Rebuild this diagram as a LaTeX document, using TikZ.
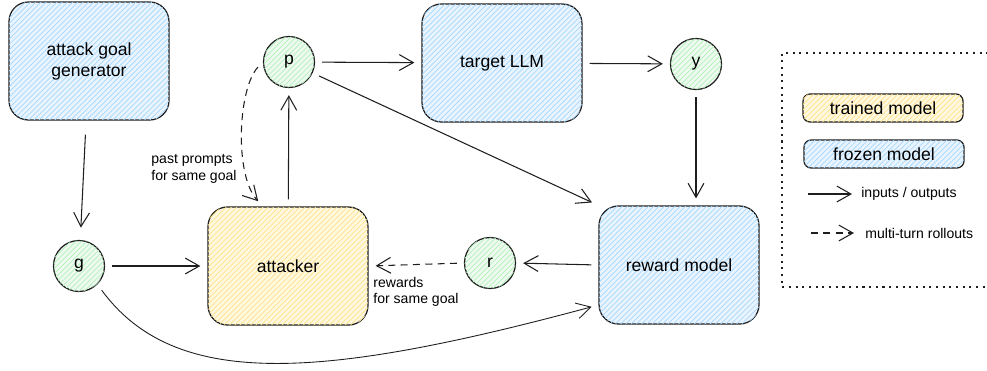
\documentclass[tikz,border=0pt]{standalone}
\usepackage{fontspec}
\setmainfont{Liberation Sans}
\usetikzlibrary{arrows.meta,patterns}

\definecolor{ink}{HTML}{1E1E1E}
\definecolor{frozenbg}{HTML}{EAF4FE}
\definecolor{frozenln}{HTML}{A5D8FF}
\definecolor{trainedbg}{HTML}{FFF8E0}
\definecolor{trainedln}{HTML}{FFE38A}
\definecolor{varbg}{HTML}{EEFAF0}
\definecolor{varln}{HTML}{B2F2BB}

\tikzset{
	>={Straight Barb[length=8pt,width=9pt]},
	box/.style={draw=ink, line width=0.7pt, rounded corners=11pt, align=center,
		minimum width=3.2cm, minimum height=2.36cm, font=\fontsize{10}{12}\selectfont},
	frozen/.style={box, fill=frozenbg, postaction={pattern=north east lines, pattern color=frozenln}},
	trained/.style={box, fill=trainedbg, postaction={pattern=north east lines, pattern color=trainedln}},
	legendbox/.style={minimum height=0.56cm, rounded corners=4pt},
	var/.style={circle, draw=ink, line width=0.7pt, minimum size=1.02cm, inner sep=0pt,
		fill=varbg, postaction={pattern=north east lines, pattern color=varln},
		font=\fontsize{10}{12}\selectfont},
	flow/.style={->, draw=ink, line width=0.6pt, shorten >=4pt, shorten <=4pt},
	rollout/.style={flow, dash pattern=on 4pt off 3pt},
	lbl/.style={align=left, inner sep=0pt, font=\fontsize{8}{9.5}\selectfont}
}

\begin{document}
\begin{tikzpicture}[x=0.02cm, y=-0.02cm]
	\useasboundingbox (0,0) rectangle (987,370);

	% models
	\node[frozen] (gen) at (89,61) {attack goal\\generator};
	\node[frozen] (llm) at (502,63) {target LLM};
	\node[trained] (att) at (288,266) {attacker};
	\node[frozen] (rm) at (679,265) {reward model};

	% variables
	\node[var] (p) at (289,62) {p};
	\node[var] (y) at (696,64) {y};
	\node[var] (g) at (79,266) {g};
	\node[var] (r) at (490,263) {r};

	% inputs / outputs
	\draw[flow, shorten <=8pt, shorten >=7pt] (gen) -- (g);
	\draw[flow] (g) -- (att);
	\draw[flow] (att) -- (p);
	\draw[flow] (p) -- (llm);
	\draw[flow] (llm) -- (y);
	\draw[flow] (y.south) -- (y.south |- rm.north);
	\draw[flow] (p) -- (rm.north west);
	\draw[flow] (rm.west) -- (r.east);
	\draw[flow, line width=0.5pt] (g.south east) .. controls (175,390) and (320,380) .. ([yshift=-0.8cm]rm.west);

	% multi-turn rollouts
	\draw[rollout] (p.west) .. controls (238,88) and (234,175) .. ([xshift=-0.5cm]att.north);
	\draw[rollout] (r.west) -- (att.east);
	\node[lbl] (pastlbl) at (194,169) {past prompts\\for same goal};
	\node[lbl] (rewlbl) at (416,292) {rewards\\for same goal};

	% legend
	\draw[ink, line width=0.7pt, dash pattern=on 1.2pt off 2.6pt] (995,53) -- (782,53) -- (782,287) -- (995,287);
	\node[trained, legendbox] (lgtrained) at (883,108) {trained model};
	\node[frozen, legendbox] (lgfrozen) at (884,154) {frozen model};
	\coordinate (ioA) at (801,194);
	\coordinate (ioB) at (859,194);
	\draw[flow] (ioA) -- (ioB);
	\node[lbl, anchor=west] (iolbl) at (861,194) {inputs / outputs};
	\coordinate (mtA) at (804,233);
	\coordinate (mtB) at (861,233);
	\draw[rollout] (mtA) -- (mtB);
	\node[lbl, anchor=west] (mtlbl) at (865,233) {multi-turn rollouts};
\end{tikzpicture}
\end{document}
